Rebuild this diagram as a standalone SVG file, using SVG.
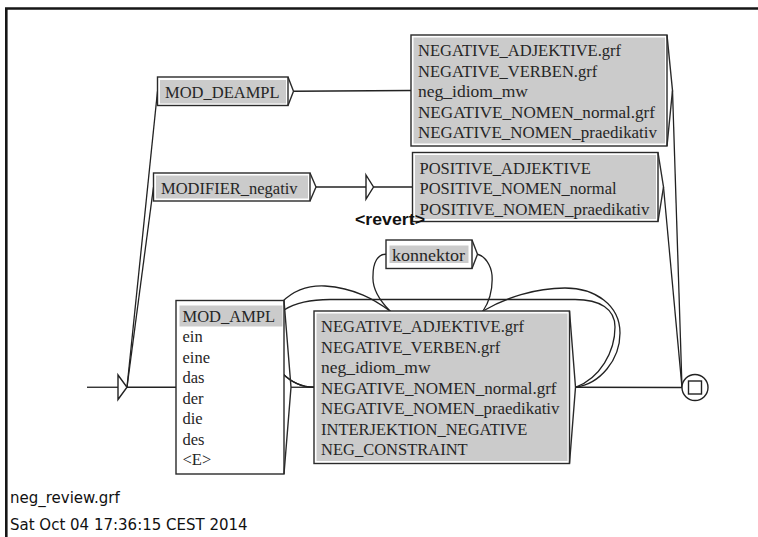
<svg xmlns="http://www.w3.org/2000/svg" width="758" height="537" viewBox="0 0 758 537">
  <style>
    .frame { fill: none; stroke: #161616; stroke-width: 2.6; }
    .box { fill: #fff; stroke: #2a2a2a; stroke-width: 1.4; }
    .call { fill: #cbcbcb; stroke: none; }
    .wedge { fill: none; stroke: #2a2a2a; stroke-width: 1.4; }
    .t { font-family: "Liberation Serif", "Times New Roman", serif; font-size: 16.5px; fill: #262626; }
    .out { font-family: "Liberation Sans", Arial, sans-serif; font-size: 17px; font-weight: bold; fill: #111; }
    .info { font-family: "DejaVu Sans", Verdana, sans-serif; font-size: 15px; fill: #111; }
    .edge { fill: none; stroke: #222; stroke-width: 1.3; }
    .state { fill: #fff; stroke: #222; stroke-width: 1.4; }
  </style>

  <rect width="758" height="537" fill="#fff"/>
  <path class="frame" d="M6.3,537 V8.5 H758"/>

  <!-- transitions (drawn first, boxes cover hidden parts) -->
  <g id="edges">
    <path class="edge" d="M87,387.25 H118"/>
    <path class="edge" d="M127,387.25 H176"/>
    <path class="edge" d="M127,387.25 L157.5,91.25"/>
    <path class="edge" d="M127,387.25 L153.5,187"/>
    <path class="edge" d="M293.5,91.25 L411,90.5"/>
    <path class="edge" d="M316,187 H366"/>
    <path class="edge" d="M373.5,187 H412.5"/>
    <path class="edge" d="M291,387.25 H314"/>
    <path class="edge" d="M575.5,387.25 L682,387.5"/>
    <path class="edge" d="M672.5,90.5 L682,387.5"/>
    <path class="edge" d="M663.5,187 L682,387.5"/>
    <!-- NEG -> konnektor -->
    <path class="edge" d="M575.5,387.25 C600,384 620,360 620,333 C620,305 595,288 565,288 C535,288 505,298 483,311 C455,330 410,330 390,311 C380,301 372,290 373,276 C373,262 378,254 386,254.25"/>
    <!-- konnektor -> NEG -->
    <path class="edge" d="M477.5,254.25 C485,256 491,265 492,275 C493,290 489,302 483,311 C460,330 410,330 390,311 C375,300 355,288 325,286 C305,285 292,292 282,302 C268,318 265,355 282,373 C292,383 303,387.25 314,387.25"/>
    <!-- NEG -> NEG -->
    <path class="edge" d="M575.5,387.25 C600,378 615,352 615,327 C615,309 600,299.5 575,299.5 H330 C310,299.5 295,303 284,310 C268,322 266,358 282,373 C292,383 303,387.25 314,387.25"/>
  </g>

  <g id="n-init">
    <polygon class="state" points="118,375 127,387.25 118,399.5"/>
  </g>

  <g id="n-mod-deampl">
    <rect class="box" x="157.5" y="77" width="130.5" height="28.5"/>
    <rect class="call" x="160" y="80" width="126" height="23.5"/>
    <polyline class="wedge" points="288,77 293.5,91.25 288,105.5"/>
    <text class="t" x="165" y="98">MOD_DEAMPL</text>
  </g>

  <g id="n-modifier">
    <rect class="box" x="153.5" y="173" width="156.5" height="28"/>
    <rect class="call" x="156" y="175.5" width="152" height="23"/>
    <polyline class="wedge" points="310,173 316,187 310,201"/>
    <text class="t" x="161" y="194">MODIFIER_negativ</text>
  </g>

  <g id="n-neg-top">
    <rect class="box" x="411" y="35" width="256" height="111"/>
    <rect class="call" x="413.5" y="37.5" width="251.5" height="106"/>
    <polyline class="wedge" points="667,35 672.5,90.5 667,146"/>
    <text class="t" x="418" y="56">NEGATIVE_ADJEKTIVE.grf</text>
    <text class="t" x="418" y="76.5">NEGATIVE_VERBEN.grf</text>
    <text class="t" x="418" y="97" textLength="110" lengthAdjust="spacingAndGlyphs">neg_idiom_mw</text>
    <text class="t" x="418" y="117.5" textLength="237" lengthAdjust="spacingAndGlyphs">NEGATIVE_NOMEN_normal.grf</text>
    <text class="t" x="418" y="138" textLength="239" lengthAdjust="spacingAndGlyphs">NEGATIVE_NOMEN_praedikativ</text>
  </g>

  <g id="n-pos">
    <rect class="box" x="412.5" y="152.5" width="245.5" height="69"/>
    <rect class="call" x="415" y="155" width="241" height="64"/>
    <polyline class="wedge" points="658,152.5 663.5,187 658,221.5"/>
    <text class="t" x="419.5" y="173.5">POSITIVE_ADJEKTIVE</text>
    <text class="t" x="419.5" y="194">POSITIVE_NOMEN_normal</text>
    <text class="t" x="419.5" y="214.5" textLength="230" lengthAdjust="spacingAndGlyphs">POSITIVE_NOMEN_praedikativ</text>
  </g>

  <g id="n-revert">
    <polygon class="state" points="366,175 373.5,187 366,199"/>
    <text class="out" x="355" y="225" textLength="70" lengthAdjust="spacingAndGlyphs">&lt;revert&gt;</text>
  </g>

  <g id="n-konnektor">
    <rect class="box" x="386" y="240" width="86" height="28.5"/>
    <rect class="call" x="389.5" y="245.5" width="79" height="17.5"/>
    <polyline class="wedge" points="472,240 477.5,254.25 472,268.5"/>
    <text class="t" x="392" y="260.5" textLength="73" lengthAdjust="spacingAndGlyphs">konnektor</text>
  </g>

  <g id="n-mod-ampl">
    <rect class="box" x="176" y="300.5" width="108" height="173.5"/>
    <rect class="call" x="179.5" y="305.5" width="103" height="21"/>
    <polyline class="wedge" points="284,300.5 291,387.25 284,474"/>
    <text class="t" x="182.5" y="321.5">MOD_AMPL</text>
    <text class="t" x="182.5" y="342">ein</text>
    <text class="t" x="182.5" y="362.5">eine</text>
    <text class="t" x="182.5" y="383">das</text>
    <text class="t" x="182.5" y="403.5">der</text>
    <text class="t" x="182.5" y="424">die</text>
    <text class="t" x="182.5" y="444.5">des</text>
    <text class="t" x="182.5" y="465">&lt;E&gt;</text>
  </g>

  <g id="n-neg">
    <rect class="box" x="314" y="311" width="255.5" height="152.5"/>
    <rect class="call" x="316.5" y="313.5" width="251" height="147.5"/>
    <polyline class="wedge" points="569.5,311 575.5,387.25 569.5,463.5"/>
    <text class="t" x="321" y="332">NEGATIVE_ADJEKTIVE.grf</text>
    <text class="t" x="321" y="352.5">NEGATIVE_VERBEN.grf</text>
    <text class="t" x="321" y="373" textLength="109.5" lengthAdjust="spacingAndGlyphs">neg_idiom_mw</text>
    <text class="t" x="321" y="393.5" textLength="235.5" lengthAdjust="spacingAndGlyphs">NEGATIVE_NOMEN_normal.grf</text>
    <text class="t" x="321" y="414" textLength="238.5" lengthAdjust="spacingAndGlyphs">NEGATIVE_NOMEN_praedikativ</text>
    <text class="t" x="321" y="434.5">INTERJEKTION_NEGATIVE</text>
    <text class="t" x="321" y="455">NEG_CONSTRAINT</text>
  </g>

  <g id="n-final">
    <circle class="state" cx="695" cy="387.5" r="13"/>
    <rect class="state" x="688.5" y="381" width="13" height="13"/>
  </g>

  <text class="info" x="10" y="503">neg_review.grf</text>
  <text class="info" x="10" y="530">Sat Oct 04 17:36:15 CEST 2014</text>
</svg>
